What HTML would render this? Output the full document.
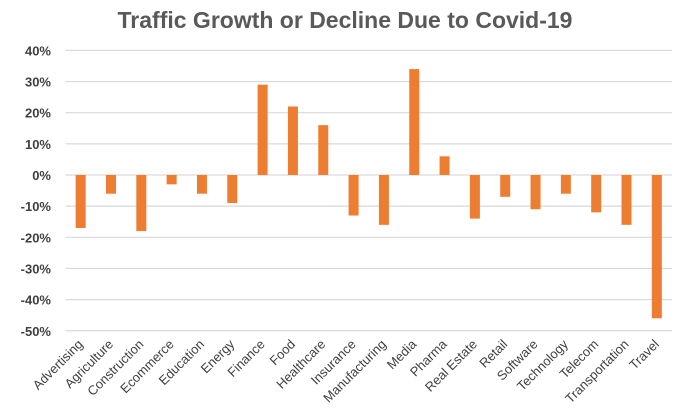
<!DOCTYPE html>
<html><head><meta charset="utf-8"><style>
body{margin:0;background:#fff;}
svg{display:block;font-family:"Liberation Sans",sans-serif;}
</style></head><body>
<svg id="c" width="695" height="416">
<text x="345" y="28" text-anchor="middle" font-size="23" font-weight="bold" fill="#595959">Traffic Growth or Decline Due to Covid-19</text>
<g id="grid"></g><g id="bars"></g><g id="labels"></g>
</svg>
<script>
const categories=["Advertising","Agriculture","Construction","Ecommerce","Education","Energy","Finance","Food","Healthcare","Insurance","Manufacturing","Media","Pharma","Real Estate","Retail","Software","Technology","Telecom","Transportation","Travel"];
const values=[-17,-6,-18,-3,-6,-9,29,22,16,-13,-16,34,6,-14,-7,-11,-6,-12,-16,-46];
const ticks=[40,30,20,10,0,-10,-20,-30,-40,-50];
const NS="http://www.w3.org/2000/svg";
const L=65.5,R=672,Y0=175,PER=3.115;
const y=v=>Y0-v*PER;
const bw=(R-L)/categories.length;
const x=i=>L+bw*(i+0.5);
function mk(t,a,p){const e=document.createElementNS(NS,t);for(const k in a)e.setAttribute(k,a[k]);p.appendChild(e);return e;}
const g=document.getElementById('grid');
ticks.forEach(t=>{
 const ln=mk('line',{x1:L,x2:R,y1:y(t),y2:y(t),stroke:'#d9d9d9','stroke-width':1.2},g);
 
 
 const tx=mk('text',{x:51,y:y(t)+5,'text-anchor':'end','font-size':13,'font-weight':'bold',fill:'#404040'},g);
 tx.textContent=t+'%';
 
 
});
const b=document.getElementById('bars'),lb=document.getElementById('labels');
values.forEach((v,i)=>{
 const r=mk('rect',{x:x(i)-5,y:Math.min(y(v),Y0),width:10,height:Math.abs(y(v)-Y0),fill:'#ed7d31'},b);
 
 
 const t=mk('text',{x:x(i)+3,y:345,'text-anchor':'end','font-size':13,fill:'#404040',transform:`rotate(-45 ${x(i)+3} 345)`},lb);
 t.textContent=categories[i];
 
 
});
</script>
</body></html>
